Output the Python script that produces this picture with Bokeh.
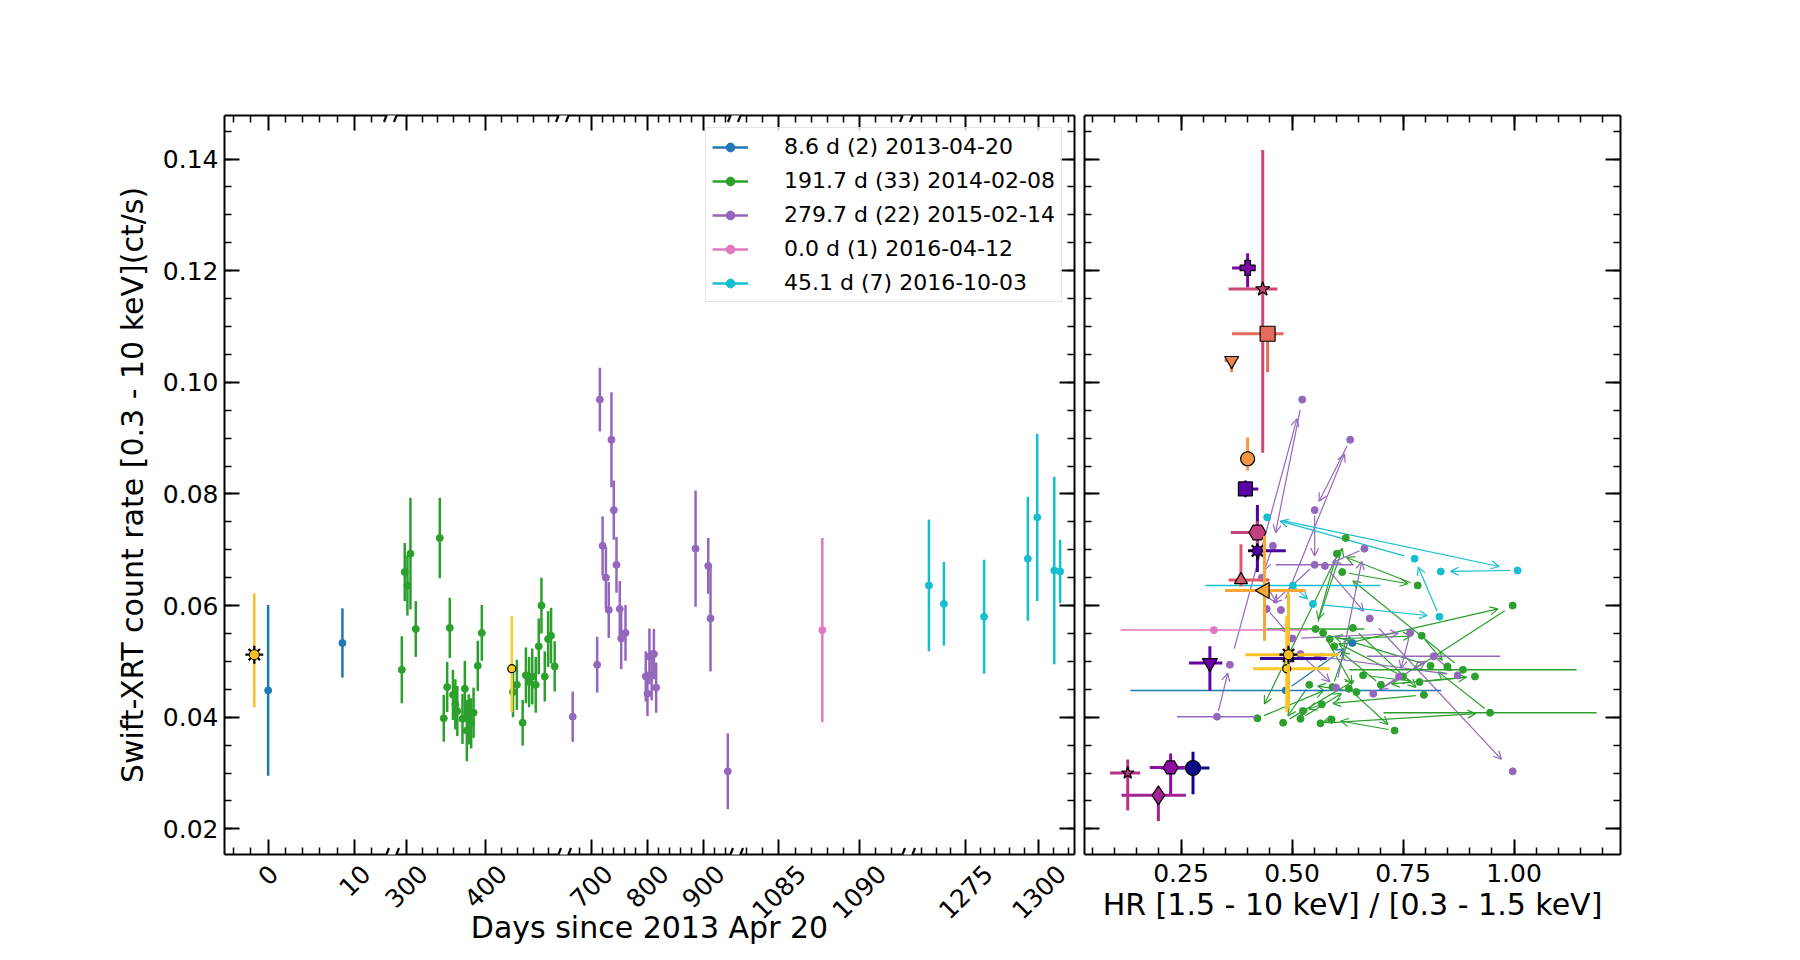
import math
from bokeh.plotting import figure
from bokeh.models import (Range1d, LinearAxis, FixedTicker, SingleIntervalTicker,
                          NumeralTickFormatter, ColumnDataSource, Legend, LegendItem,
                          Arrow, OpenHead, CustomLabelingPolicy)
from bokeh.layouts import row
from bokeh.embed import file_html
from bokeh.resources import INLINE

FONT = "DejaVu Sans"

# ---------------- data ----------------
SERIES_LABELS = ["8.6 d (2) 2013-04-20", "191.7 d (33) 2014-02-08", "279.7 d (22) 2015-02-14",
                 "0.0 d (1) 2016-04-12", "45.1 d (7) 2016-10-03"]
SERIES_COLORS = ["#1f77b4", "#2ca02c", "#9467bd", "#e377c2", "#17becf"]

BLUE_DAY = [0.0, 8.6]
BLUE_RATE = [0.0448, 0.0533]
BLUE_ERR = [0.0153, 0.0062]
BLUE_HR = [0.486, 0.636]
BLUE_HR_ERR = [0.35, 0.0]

GREEN_DAY = [294.5, 298.2, 301.6, 305.4, 312.1, 342.4, 347.4, 351.7, 355.0, 359.0, 362.0, 364.5,
             371.0, 374.0, 376.5, 379.0, 382.0, 385.0, 390.3, 395.4, 434.7, 439.6, 446.9, 451.0,
             455.0, 459.0, 463.4, 467.2, 470.6, 474.8, 479.0, 482.7, 487.3]
GREEN_RATE = [0.0485, 0.0660, 0.0636, 0.0693, 0.0558, 0.0721, 0.0398, 0.0454, 0.0560, 0.0440,
              0.0423, 0.0411, 0.0397, 0.0451, 0.0376, 0.0396, 0.0389, 0.0408, 0.0492, 0.0551,
              0.0445, 0.0458, 0.0390, 0.0475, 0.0463, 0.0473, 0.0458, 0.0527, 0.0600, 0.0473,
              0.0540, 0.0546, 0.0491]
GREEN_ERR = [0.0060, 0.0052, 0.0054, 0.0100, 0.0050, 0.0072, 0.0042, 0.0045, 0.0054, 0.0045,
             0.0045, 0.0045, 0.0045, 0.0050, 0.0055, 0.0045, 0.0045, 0.0045, 0.0045, 0.0050,
             0.0045, 0.0045, 0.0041, 0.0050, 0.0045, 0.0050, 0.0050, 0.0050, 0.0050, 0.0045,
             0.0050, 0.0050, 0.0045]
GREEN_HR = [0.885, 0.613, 0.783, 0.601, 0.553, 0.621, 0.422, 0.591, 0.637, 0.797, 0.567, 0.525,
            0.519, 0.628, 0.731, 0.589, 0.564, 0.946, 0.812, 0.570, 0.645, 0.539, 0.480, 0.660,
            0.787, 0.912, 0.700, 0.595, 0.997, 0.750, 0.585, 0.792, 0.850]
GREEN_HR_ERR = [0.256, 0, 0, 0, 0.11, 0, 0, 0, 0, 0, 0, 0, 0, 0, 0, 0, 0, 0.24, 0, 0, 0, 0, 0,
                0, 0, 0, 0, 0, 0, 0, 0, 0, 0]

PURPLE_DAY = [667.0, 710.7, 715.5, 720.4, 726.3, 731.4, 736.2, 740.4, 745.2, 751.1, 753.6, 761.3,
              797.5, 800.5, 804.0, 808.0, 812.0, 816.0, 886.4, 909.1, 913.1, 944.0]
PURPLE_RATE = [0.0401, 0.0494, 0.0969, 0.0707, 0.0650, 0.0592, 0.0897, 0.0771, 0.0673, 0.0594,
               0.0541, 0.0551, 0.0473, 0.0442, 0.0509, 0.0475, 0.0513, 0.0453, 0.0702, 0.0671,
               0.0577, 0.0303]
PURPLE_ERR = [0.0045, 0.0050, 0.0057, 0.0053, 0.0055, 0.0050, 0.0085, 0.0053, 0.0050, 0.0050,
              0.0055, 0.0050, 0.0045, 0.0040, 0.0050, 0.0045, 0.0045, 0.0045, 0.0104, 0.0050,
              0.0095, 0.0068]
PURPLE_HR = [0.331, 0.360, 0.523, 0.457, 0.432, 0.475, 0.631, 0.551, 0.551, 0.443, 0.501, 0.766,
             0.741, 0.683, 0.819, 0.873, 0.519, 0.599, 0.663, 0.574, 0.675, 0.997]
PURPLE_HR_ERR = [0.09, 0, 0, 0, 0, 0, 0, 0, 0.088, 0, 0, 0, 0, 0, 0.15, 0, 0, 0, 0, 0, 0, 0]

PINK_DAY = [1087.7]
PINK_RATE = [0.0556]
PINK_ERR = [0.0165]
PINK_HR = [0.324]
PINK_HR_ERR = [0.21]

CYAN_DAY = [1262.5, 1267.6, 1281.3, 1296.2, 1299.4, 1305.2, 1307.2]
CYAN_RATE = [0.0636, 0.0603, 0.0580, 0.0684, 0.0758, 0.0663, 0.0661]
CYAN_ERR = [0.0118, 0.0075, 0.0102, 0.0111, 0.0150, 0.0168, 0.0057]
CYAN_HR = [0.502, 0.547, 0.832, 0.776, 0.444, 1.008, 0.835]
CYAN_HR_ERR = [0.197, 0, 0, 0, 0, 0, 0]

# comparison measurements (right panel), asymmetric errors
SP_HR = [0.277, 0.492, 0.422, 0.395, 0.315, 0.400, 0.2266, 0.199, 0.130, 0.422, 0.434, 0.385,
         0.445, 0.364, 0.400, 0.438, 0.488, 0.492]
SP_HR_LO = [0.072, 0.064, 0.021, 0.006, 0.047, 0.035, 0.047, 0.083, 0.040, 0.060, 0.077, 0.028,
            0.080, 0.016, 0.013, 0.089, 0.076, 0.097]
SP_HR_HI = [0.037, 0.086, 0.064, 0.029, 0.028, 0.016, 0.033, 0.062, 0.028, 0.020, 0.033, 0.064,
            0.036, 0.0, 0.009, 0.093, 0.097, 0.113]
SP_RATE = [0.0309, 0.0505, 0.0698, 0.0809, 0.0497, 0.1205, 0.0310, 0.0260, 0.0300, 0.0731,
           0.1167, 0.0646, 0.1087, 0.1039, 0.0863, 0.0627, 0.0487, 0.0512]
SP_RATE_LO = [0.0047, 0.0010, 0.0038, 0.0015, 0.0049, 0.0035, 0.0048, 0.0046, 0.0067, 0.0020,
              0.0293, 0.0012, 0.0069, 0.0021, 0.0021, 0.0090, 0.0078, 0.0094]
SP_RATE_HI = [0.0029, 0.0010, 0.0082, 0.0015, 0.0030, 0.0026, 0.0025, 0.0015, 0.0024, 0.0020,
              0.0249, 0.0064, 0.0010, 0.0000, 0.0038, 0.0098, 0.0094, 0.0110]
# two of them also appear in the light curve
YELLOW_INDEX = [17, 16]
YELLOW_DAY = [-1.6, 433.2]

# ---------------- styles ----------------
SP_MARKER = ["circle", "triangle", "sun", "square", "inverted_triangle", "plus", "hex", "diamond",
             "star", "hex", "star", "triangle", "square", "inverted_triangle", "circle",
             "triangle", "circle", "sun"]
SP_ANGLE = [0, 0, 0, 0, 0, 0, 0, 0, 0, 0, 0, 0, 0, 0, 0, math.pi / 2, 0, 0]
SP_COLOR = ["#0d0887", "#3a049a", "#4c02a1", "#5c01a6", "#6a00a8", "#7e03a8", "#8f0da4", "#a62098",
            "#b83289", "#c5407e", "#cc4778", "#db5c68", "#e56b5d", "#f0804e", "#f89540",
            "#fca636", "#fdca26", "#fbbf24"]
SP_SIZE = [15, 11, 14, 14, 15, 15, 15, 19, 13, 17, 15, 13, 15, 14, 14, 16, 8, 14]

# broken time axis
SEG_LIMITS = [(-5.05, 13.7), (287.8, 492.1), (659.5, 948.8), (1082.6, 1092.7), (1256.9, 1312.1)]
SEG_MAJOR = [[0, 10], [300, 400], [700, 800, 900], [1085, 1090], [1275, 1300]]
SEG_MINOR_STEP = [2, 20, 20, 1, 5]
Y_LIM = (0.0154, 0.1478)
HR_LIM = (0.0326, 1.2398)

SEG_W, SEG_GAP = 162, 10
LEFT_W = 5 * SEG_W + 4 * SEG_GAP
RIGHT_W = 536
FRAME_H = 739
TOP = 115
BOTTOM = 80
TICK_FONT_PX = 25


def seg_pos(v, k):
    lo, hi = SEG_LIMITS[k]
    return k * (SEG_W + SEG_GAP) + (v - lo) * SEG_W / (hi - lo)


def style_axis(ax, show_labels):
    ax.axis_line_color = "black"
    ax.axis_line_width = 2
    ax.major_tick_in = 15
    ax.major_tick_out = 0
    ax.minor_tick_in = 7
    ax.minor_tick_out = 0
    ax.major_tick_line_color = "black"
    ax.major_tick_line_width = 2
    ax.minor_tick_line_color = "black"
    ax.minor_tick_line_width = 1.5
    ax.major_label_text_font = FONT
    ax.major_label_text_font_size = "%dpx" % TICK_FONT_PX
    ax.major_label_text_color = "black"
    ax.axis_label_text_font = FONT
    ax.axis_label_text_font_size = "30px"
    ax.axis_label_text_font_style = "normal"
    ax.axis_label_text_color = "black"
    if not show_labels:
        ax.major_label_policy = CustomLabelingPolicy(code="return []")
        ax.major_label_text_font_size = "1px"
        ax.major_label_standoff = 0


yr = Range1d(*Y_LIM)
ky = FRAME_H / (Y_LIM[1] - Y_LIM[0])

# ================= left panel: light curve with broken time axis =================
p = figure(frame_width=LEFT_W, frame_height=FRAME_H, x_range=Range1d(0, LEFT_W), y_range=yr,
           x_axis_type=None, y_axis_type=None, output_backend="svg", toolbar_location=None,
           min_border_left=224, min_border_right=5, min_border_top=TOP, min_border_bottom=BOTTOM,
           background_fill_color="white", border_fill_color="white")
p.outline_line_color = None

extra = {}
for k, (lo, hi) in enumerate(SEG_LIMITS):
    s = (hi - lo) / SEG_W
    start = lo - k * (SEG_W + SEG_GAP) * s
    extra["seg%d" % k] = Range1d(start, start + LEFT_W * s)
p.extra_x_ranges = extra

major_pos, major_txt, minor_pos = [], [], []
for k, (lo, hi) in enumerate(SEG_LIMITS):
    for v in SEG_MAJOR[k]:
        major_pos.append(round(seg_pos(v, k), 3))
        major_txt.append(str(v))
    step = SEG_MINOR_STEP[k]
    margin = 3 * (hi - lo) / SEG_W
    v = math.ceil((lo + margin) / step) * step
    while v < hi - margin:
        if v not in SEG_MAJOR[k]:
            minor_pos.append(round(seg_pos(v, k), 3))
        v += step

# spine + ticks
xb = LinearAxis(ticker=FixedTicker(ticks=major_pos, minor_ticks=minor_pos))
style_axis(xb, False)
p.add_layout(xb, "below")

# rotated tick labels, anchored so that each label is centred on its tick
lab_pos, lab_over = [], {}
for xv, t in zip(major_pos, major_txt):
    sx = round(xv + 0.3535 * len(t) * 0.636 * TICK_FONT_PX, 3)
    lab_pos.append(sx)
    lab_over[sx] = t
xl = LinearAxis(ticker=FixedTicker(ticks=lab_pos, minor_ticks=[]),
                major_label_overrides=lab_over, axis_label="Days since 2013 Apr 20")
style_axis(xl, True)
xl.axis_line_color = None
xl.major_tick_line_color = None
xl.minor_tick_line_color = None
xl.major_tick_in = 0
xl.minor_tick_in = 0
xl.major_label_orientation = math.pi / 4
xl.major_label_standoff = 11
xl.axis_label_standoff = -20
p.add_layout(xl, "below")

xt = LinearAxis(ticker=FixedTicker(ticks=major_pos, minor_ticks=minor_pos))
style_axis(xt, False)
p.add_layout(xt, "above")

yl = LinearAxis(ticker=SingleIntervalTicker(interval=0.02, num_minor_ticks=4),
                formatter=NumeralTickFormatter(format="0.00"),
                axis_label="Swift-XRT count rate [0.3 - 10 keV](ct/s)")
style_axis(yl, True)
yl.major_label_standoff = 6
yl.axis_label_standoff = 10
p.add_layout(yl, "left")

yrr = LinearAxis(ticker=SingleIntervalTicker(interval=0.02, num_minor_ticks=4))
style_axis(yrr, False)
p.add_layout(yrr, "right")

series = [
    (BLUE_DAY, BLUE_RATE, BLUE_ERR, BLUE_HR, BLUE_HR_ERR, 0),
    (GREEN_DAY, GREEN_RATE, GREEN_ERR, GREEN_HR, GREEN_HR_ERR, 1),
    (PURPLE_DAY, PURPLE_RATE, PURPLE_ERR, PURPLE_HR, PURPLE_HR_ERR, 2),
    (PINK_DAY, PINK_RATE, PINK_ERR, PINK_HR, PINK_HR_ERR, 3),
    (CYAN_DAY, CYAN_RATE, CYAN_ERR, CYAN_HR, CYAN_HR_ERR, 4),
]

items = []
for i, (day, rate, err, hr, hre, k) in enumerate(series):
    c = SERIES_COLORS[i]
    src = ColumnDataSource(dict(x=day, y=rate,
                                lo=[r - e for r, e in zip(rate, err)],
                                hi=[r + e for r, e in zip(rate, err)]))
    r1 = p.segment(x0="x", y0="lo", x1="x", y1="hi", source=src, line_color=c, line_width=2.5,
                   x_range_name="seg%d" % k)
    r2 = p.scatter(x="x", y="y", source=src, size=7, fill_color=c, line_color=c,
                   x_range_name="seg%d" % k)
    items.append(LegendItem(label=SERIES_LABELS[i], renderers=[r1, r2]))


def draw_marker(fig, src, marker, range_name="default"):
    if marker == "sun":
        fig.scatter(x="x", y="y", source=src, marker="cross", size=18, line_color="black",
                    line_width=2.2, x_range_name=range_name)
        fig.scatter(x="x", y="y", source=src, marker="x", size=16, line_color="black",
                    line_width=2.2, x_range_name=range_name)
        fig.scatter(x="x", y="y", source=src, marker="circle", size=10, fill_color="color",
                    line_color="black", line_width=1, x_range_name=range_name)
    else:
        fig.scatter(x="x", y="y", source=src, marker=marker, size="size", angle="angle",
                    fill_color="color", line_color="black", line_width=1.2,
                    x_range_name=range_name)


yellow_segs = [0, 1]
for j, idx in enumerate(YELLOW_INDEX):
    rn = "seg%d" % yellow_segs[j]
    src = ColumnDataSource(dict(x=[YELLOW_DAY[j]], y=[SP_RATE[idx]],
                                lo=[SP_RATE[idx] - SP_RATE_LO[idx]],
                                hi=[SP_RATE[idx] + SP_RATE_HI[idx]],
                                color=[SP_COLOR[idx]], size=[SP_SIZE[idx]], angle=[SP_ANGLE[idx]]))
    p.segment(x0="x", y0="lo", x1="x", y1="hi", source=src, line_color=SP_COLOR[idx],
              line_width=2.5, x_range_name=rn)
    draw_marker(p, src, SP_MARKER[idx], rn)

legend = Legend(items=items, location="top_right", margin=12, padding=6, spacing=9,
                glyph_width=36, glyph_height=22, label_height=22, label_standoff=36,
                label_text_font=FONT, label_text_font_size="22px", label_text_color="black",
                border_line_color="#cccccc", border_line_width=1,
                background_fill_color="white", background_fill_alpha=0.8)
p.add_layout(legend)

# break marks on the top and bottom spines
cov = dict(x0=[], y0=[], x1=[], y1=[])
sl = dict(x0=[], y0=[], x1=[], y1=[])
for k in range(len(SEG_LIMITS) - 1):
    xe = k * (SEG_W + SEG_GAP) + SEG_W
    xs = xe + SEG_GAP
    for yv in Y_LIM:
        cov["x0"].append(xe + 0.8)
        cov["x1"].append(xs - 0.8)
        cov["y0"].append(yv)
        cov["y1"].append(yv)
        for xv in (xe, xs):
            sl["x0"].append(xv - 2.5)
            sl["x1"].append(xv + 2.5)
            sl["y0"].append(yv - 6.5 / ky)
            sl["y1"].append(yv + 6.5 / ky)
p.add_layout(Arrow(x_start="x0", y_start="y0", x_end="x1", y_end="y1", end=None,
                   source=ColumnDataSource(cov), line_color="white", line_width=7))
p.add_layout(Arrow(x_start="x0", y_start="y0", x_end="x1", y_end="y1", end=None,
                   source=ColumnDataSource(sl), line_color="black", line_width=2.2))

# ================= right panel: hardness ratio =================
q = figure(frame_width=RIGHT_W, frame_height=FRAME_H, x_range=Range1d(*HR_LIM), y_range=yr,
           x_axis_type=None, y_axis_type=None, output_backend="svg", toolbar_location=None,
           min_border_left=5, min_border_right=20, min_border_top=TOP, min_border_bottom=BOTTOM,
           background_fill_color="white", border_fill_color="white")
q.outline_line_color = None

qb = LinearAxis(ticker=SingleIntervalTicker(interval=0.25, num_minor_ticks=5),
                formatter=NumeralTickFormatter(format="0.00"),
                axis_label="HR [1.5 - 10 keV] / [0.3 - 1.5 keV]")
style_axis(qb, True)
qb.major_label_standoff = 9
qb.axis_label_standoff = 2
q.add_layout(qb, "below")
qt = LinearAxis(ticker=SingleIntervalTicker(interval=0.25, num_minor_ticks=5))
style_axis(qt, False)
q.add_layout(qt, "above")
ql = LinearAxis(ticker=SingleIntervalTicker(interval=0.02, num_minor_ticks=4))
style_axis(ql, False)
q.add_layout(ql, "left")
qr = LinearAxis(ticker=SingleIntervalTicker(interval=0.02, num_minor_ticks=4))
style_axis(qr, False)
q.add_layout(qr, "right")

kx = RIGHT_W / (HR_LIM[1] - HR_LIM[0])

for i, (day, rate, err, hr, hre, k) in enumerate(series):
    c = SERIES_COLORS[i]
    # arrows joining consecutive observations
    a = dict(x0=[], y0=[], x1=[], y1=[])
    for n in range(len(hr) - 1):
        ax_, ay_ = hr[n] * kx, rate[n] * ky
        bx_, by_ = hr[n + 1] * kx, rate[n + 1] * ky
        d = math.hypot(bx_ - ax_, by_ - ay_)
        if d < 1e-6:
            continue
        ux, uy = (bx_ - ax_) / d, (by_ - ay_) / d
        s0 = min(0.05 * d + 3, 0.25 * d)
        s1 = min(0.05 * d + 6, 0.3 * d)
        a["x0"].append((ax_ + ux * s0) / kx)
        a["y0"].append((ay_ + uy * s0) / ky)
        a["x1"].append((bx_ - ux * s1) / kx)
        a["y1"].append((by_ - uy * s1) / ky)
    if a["x0"]:
        q.add_layout(Arrow(x_start="x0", y_start="y0", x_end="x1", y_end="y1",
                           source=ColumnDataSource(a), line_color=c, line_width=1.2,
                           level="underlay",
                           end=OpenHead(size=8, line_color=c, line_width=1.2)))
    src = ColumnDataSource(dict(x=hr, y=rate,
                                l=[h - e for h, e in zip(hr, hre)],
                                r=[h + e for h, e in zip(hr, hre)]))
    q.segment(x0="l", y0="y", x1="r", y1="y", source=src, line_color=c, line_width=1.5)
    q.scatter(x="x", y="y", source=src, size=7, fill_color=c, line_color=c)

# comparison points
for idx in range(len(SP_HR)):
    c = SP_COLOR[idx]
    src = ColumnDataSource(dict(x=[SP_HR[idx]], y=[SP_RATE[idx]],
                                l=[SP_HR[idx] - SP_HR_LO[idx]], r=[SP_HR[idx] + SP_HR_HI[idx]],
                                lo=[SP_RATE[idx] - SP_RATE_LO[idx]],
                                hi=[SP_RATE[idx] + SP_RATE_HI[idx]],
                                color=[c], size=[SP_SIZE[idx]], angle=[SP_ANGLE[idx]]))
    q.segment(x0="l", y0="y", x1="r", y1="y", source=src, line_color=c, line_width=3)
    q.segment(x0="x", y0="lo", x1="x", y1="hi", source=src, line_color=c, line_width=3)
    draw_marker(q, src, SP_MARKER[idx])

layout = row(p, q)
open("out.html", "w").write(file_html(layout, INLINE))
